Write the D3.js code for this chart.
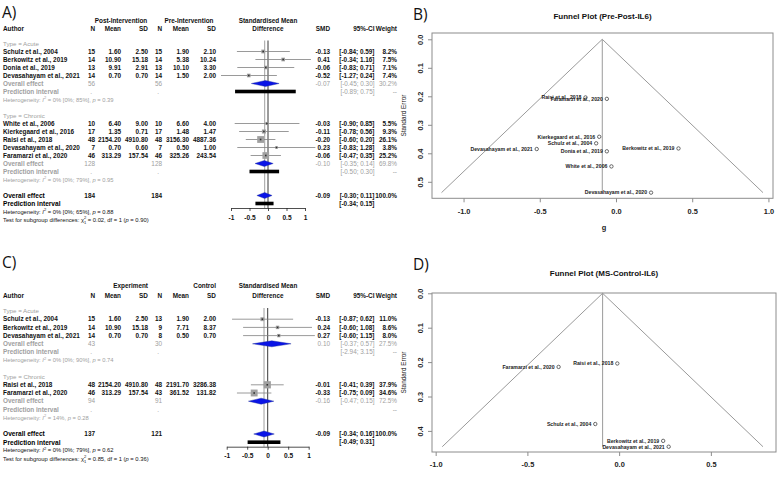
<!DOCTYPE html>
<html><head><meta charset="utf-8">
<script src="https://cdn.jsdelivr.net/npm/d3@7"></script>
<style>body{margin:0;background:#fff}svg{display:block;font-family:"Liberation Sans",Arial,sans-serif}</style>
</head><body><svg id="c" width="784" height="479"></svg>
<script>
// ================= Panel A (forest: Post vs Pre intervention) =================
const A_study = ["Schulz et al., 2004","Berkowitz et al., 2019","Donia et al., 2019","Devasahayam et al., 2021","White et al., 2006","Kierkegaard et al., 2016","Raisi et al., 2018","Devasahayam et al., 2020","Faramarzi et al., 2020"];
const A_type  = ["Acute","Acute","Acute","Acute","Chronic","Chronic","Chronic","Chronic","Chronic"];
const A_n1    = [15,14,13,14,10,17,48,7,46];
const A_mean1 = [1.60,10.90,9.91,0.70,6.40,1.35,2154.20,0.70,313.29];
const A_sd1   = [2.50,15.18,2.91,0.70,9.00,0.71,4910.80,0.60,157.54];
const A_n2    = [15,14,13,14,10,17,48,7,46];
const A_mean2 = [1.90,5.38,10.10,1.50,6.60,1.48,3156.30,0.50,325.26];
const A_sd2   = [2.10,10.24,3.30,2.00,4.00,1.47,4887.36,1.00,243.54];
const A_smd   = [-0.13,0.41,-0.06,-0.52,-0.03,-0.11,-0.20,0.23,-0.06];
const A_lo    = [-0.84,-0.34,-0.83,-1.27,-0.90,-0.78,-0.60,-0.83,-0.47];
const A_hi    = [0.59,1.16,0.71,0.24,0.85,0.56,0.20,1.28,0.35];
const A_w     = [8.2,7.5,7.1,7.4,5.5,9.3,26.1,3.8,25.2];
const A_groups = ["Acute","Chronic"];
const A_gN1   = [56,128];
const A_gN2   = [56,128];
const A_gSmd  = [-0.07,-0.10];
const A_gLo   = [-0.45,-0.35];
const A_gHi   = [0.30,0.14];
const A_gW    = [30.2,69.8];
const A_gPiLo = [-0.89,-0.50];
const A_gPiHi = [0.75,0.30];
const A_gI2   = ["0% [0%; 85%]","0% [0%; 79%]"];
const A_gP    = ["0.39","0.95"];
const A_tot   = [184,184,-0.09,-0.30,0.11,100.0];   // n1, n2, smd, lo, hi, weight
const A_totPI = [-0.34,0.15];
const A_totHet = ["0% [0%; 65%]","0.88"];
const A_test  = ["0.02","1","0.90"];
const A_ticks = [-1,-0.5,0,0.5,1];

// ================= Panel C (forest: Experiment vs Control) =================
const C_study = ["Schulz et al., 2004","Berkowitz et al., 2019","Devasahayam et al., 2021","Raisi et al., 2018","Faramarzi et al., 2020"];
const C_type  = ["Acute","Acute","Acute","Chronic","Chronic"];
const C_n1    = [15,14,14,48,46];
const C_mean1 = [1.60,10.90,0.70,2154.20,313.29];
const C_sd1   = [2.50,15.18,0.70,4910.80,157.54];
const C_n2    = [13,9,8,48,43];
const C_mean2 = [1.90,7.71,0.50,2191.70,361.52];
const C_sd2   = [2.00,8.37,0.70,3286.38,131.82];
const C_smd   = [-0.13,0.24,0.27,-0.01,-0.33];
const C_lo    = [-0.87,-0.60,-0.60,-0.41,-0.75];
const C_hi    = [0.62,1.08,1.15,0.39,0.09];
const C_w     = [11.0,8.6,8.0,37.9,34.6];
const C_groups = ["Acute","Chronic"];
const C_gN1   = [43,94];
const C_gN2   = [30,91];
const C_gSmd  = [0.10,-0.16];
const C_gLo   = [-0.37,-0.47];
const C_gHi   = [0.57,0.15];
const C_gW    = [27.5,72.5];
const C_gPiLo = [-2.94,null];
const C_gPiHi = [3.15,null];
const C_gI2   = ["0% [0%; 90%]","14%"];
const C_gP    = ["0.74","0.28"];
const C_tot   = [137,121,-0.09,-0.34,0.16,100.0];
const C_totPI = [-0.49,0.31];
const C_totHet = ["0% [0%; 79%]","0.62"];
const C_test  = ["0.85","1","0.36"];
const C_ticks = [-1,-0.5,0,0.5,1];

// ================= Panel B funnel (Pre-Post-IL6) =================
const B_study = ["Schulz et al., 2004","Berkowitz et al., 2019","Donia et al., 2019","Devasahayam et al., 2021","White et al., 2006","Kierkegaard et al., 2016","Raisi et al., 2018","Devasahayam et al., 2020","Faramarzi et al., 2020"];
const B_g   = [-0.13,0.41,-0.06,-0.52,-0.03,-0.11,-0.20,0.23,-0.06];
const B_se  = [0.365,0.383,0.393,0.385,0.446,0.342,0.204,0.538,0.209];
const B_center = -0.09;
const B_xticks = [-1.0,-0.5,0.0,0.5,1.0];
const B_yticks = [0.0,0.1,0.2,0.3,0.4,0.5];

// ================= Panel D funnel (MS-Control-IL6) =================
const D_study = ["Schulz et al., 2004","Berkowitz et al., 2019","Devasahayam et al., 2021","Raisi et al., 2018","Faramarzi et al., 2020"];
const D_g   = [-0.13,0.24,0.27,-0.01,-0.33];
const D_se  = [0.380,0.429,0.446,0.204,0.214];
const D_center = -0.09;
const D_xticks = [-1.0,-0.5,0.0,0.5];
const D_yticks = [0.0,0.1,0.2,0.3,0.4];

const svg = d3.select("#c");
const f2 = v => v.toFixed(2);
const GRAY = "#a0a0a0";

function forest(D, L) {
  const g = svg.append("g");
  const x = d3.scaleLinear().domain([-1,1]).range(L.xr);
  const rows = [];
  let r = 0;
  D.groups.forEach((grp, gi) => {
    rows.push({k:"glabel", r:r++, gi});
    D.study.forEach((s,i) => { if (D.type[i] === grp) rows.push({k:"study", r:r++, i}); });
    rows.push({k:"gOE", r:r++, gi});
    rows.push({k:"gPI", r:r++, gi});
    rows.push({k:"gHet", r:r++, gi});
    r++;
  });
  rows.push({k:"OE", r:r++}); rows.push({k:"PI", r:r++}); rows.push({k:"Het", r:r++}); rows.push({k:"Test", r:r++});
  const Y = rr => L.y0 + rr * L.step;
  const piRow = rows.find(d => d.k === "PI").r;
  const axisY = Y(piRow) + 4.5;
  const FS = 6.4;
  const HS = 5.8;

  const txt = (xx, yy, s, anchor, col, bold, fs) => g.append("text")
    .attr("x", xx).attr("y", yy).attr("dy", "0.35em")
    .attr("text-anchor", anchor || "start").attr("fill", col || "#111")
    .attr("font-weight", bold === false ? "normal" : "bold")
    .attr("font-size", fs || FS).text(s);

  // headers
  L.head1.forEach(h => txt(h[0], L.hy1, h[1], h[2]));
  L.head2.forEach(h => txt(h[0], L.hy2, h[1], h[2]));

  // reference lines
  g.append("line").attr("x1", x(D.tot[2])).attr("x2", x(D.tot[2]))
    .attr("y1", Y(0) - 3).attr("y2", axisY).attr("stroke", "#a8a8a8").attr("stroke-width", 1.1);
  g.append("line").attr("x1", x(0)).attr("x2", x(0))
    .attr("y1", Y(0) - 3).attr("y2", axisY).attr("stroke", "#222").attr("stroke-width", 0.9);

  const C = L.cols;
  const wmax = d3.max(D.w);
  const het = (yy, i2, p, col) => {
    const t = g.append("text").attr("x", 3).attr("y", yy).attr("dy", "0.35em")
      .attr("font-size", HS).attr("fill", col);
    t.append("tspan").text("Heterogeneity: ");
    t.append("tspan").attr("font-style", "italic").text("I");
    t.append("tspan").attr("font-size", 4).attr("dy", -2.2).text("2");
    t.append("tspan").attr("dy", 2.2).text(" = " + i2 + ", ");
    t.append("tspan").attr("font-style", "italic").text("p");
    t.append("tspan").text(" = " + p);
  };

  rows.forEach(row => {
    const yy = Y(row.r);
    if (row.k === "glabel") {
      txt(3, yy, "Type = " + D.groups[row.gi], "start", GRAY, false, 6.2);
    } else if (row.k === "study") {
      const i = row.i;
      txt(3, yy, D.study[i]);
      txt(C.n1, yy, D.n1[i], "end");
      txt(C.m1, yy, f2(D.mean1[i]), "end");
      txt(C.sd1, yy, f2(D.sd1[i]), "end");
      txt(C.n2, yy, D.n2[i], "end");
      txt(C.m2, yy, f2(D.mean2[i]), "end");
      txt(C.sd2, yy, f2(D.sd2[i]), "end");
      txt(C.smd, yy, f2(D.smd[i]), "end");
      txt(C.ci, yy, "[" + f2(D.lo[i]) + "; " + f2(D.hi[i]) + "]", "end");
      txt(C.w, yy, D.w[i].toFixed(1) + "%", "end");
      g.append("line").attr("x1", x(D.lo[i])).attr("x2", x(D.hi[i]))
        .attr("y1", yy).attr("y2", yy).attr("stroke", "#808080").attr("stroke-width", 0.8);
      const s = L.sq * Math.sqrt(D.w[i] / wmax);
      g.append("rect").attr("x", x(D.smd[i]) - s/2).attr("y", yy - s/2)
        .attr("width", s).attr("height", s).attr("fill", "#a0a0a0");
      g.append("rect").attr("x", x(D.smd[i]) - 0.8).attr("y", yy - 0.8)
        .attr("width", 1.6).attr("height", 1.6).attr("fill", "#333");
    } else if (row.k === "gOE") {
      const gi = row.gi;
      txt(3, yy, "Overall effect", "start", GRAY);
      txt(C.n1, yy, D.gN1[gi], "end", GRAY, false);
      txt(C.n2, yy, D.gN2[gi], "end", GRAY, false);
      txt(C.smd, yy, f2(D.gSmd[gi]), "end", GRAY, false);
      txt(C.ci, yy, "[" + f2(D.gLo[gi]) + "; " + f2(D.gHi[gi]) + "]", "end", GRAY, false);
      txt(C.w, yy, D.gW[gi].toFixed(1) + "%", "end", GRAY, false);
      g.append("polygon").attr("points", [[x(D.gLo[gi]), yy],[x(D.gSmd[gi]), yy-3],[x(D.gHi[gi]), yy],[x(D.gSmd[gi]), yy+3]].join(" "))
        .attr("fill", "#0a14e6").attr("stroke", "#1a2a9a").attr("stroke-width", 0.4);
    } else if (row.k === "gPI") {
      const gi = row.gi;
      txt(3, yy, "Prediction interval", "start", GRAY);
      txt(C.n1 - 3, yy, ".", "end", GRAY, false);
      txt(C.n2 - 3, yy, ".", "end", GRAY, false);
      if (D.gPiLo[gi] !== null)
        txt(C.ci, yy, "[" + f2(D.gPiLo[gi]) + "; " + f2(D.gPiHi[gi]) + "]", "end", GRAY, false);
      txt(C.w, yy, "--", "end", GRAY, false);
      if (D.gPiLo[gi] !== null && D.gPiLo[gi] > -1.5 && D.gPiHi[gi] < 1.5)
        g.append("rect").attr("x", x(D.gPiLo[gi])).attr("y", yy - 1.8)
          .attr("width", x(D.gPiHi[gi]) - x(D.gPiLo[gi])).attr("height", 3.6).attr("fill", "#000");
    } else if (row.k === "gHet") {
      het(yy, D.gI2[row.gi], D.gP[row.gi], GRAY);
    } else if (row.k === "OE") {
      const t = D.tot;
      txt(3, yy, "Overall effect", "start", "#000", true, 6.6);
      txt(C.n1, yy, t[0], "end");
      txt(C.n2, yy, t[1], "end");
      txt(C.smd, yy, f2(t[2]), "end");
      txt(C.ci, yy, "[" + f2(t[3]) + "; " + f2(t[4]) + "]", "end");
      txt(C.w, yy, t[5].toFixed(1) + "%", "end");
      g.append("polygon").attr("points", [[x(t[3]), yy],[x(t[2]), yy-3],[x(t[4]), yy],[x(t[2]), yy+3]].join(" "))
        .attr("fill", "#0a14e6").attr("stroke", "#1a2a9a").attr("stroke-width", 0.4);
    } else if (row.k === "PI") {
      txt(3, yy, "Prediction interval", "start", "#000", true, 6.6);
      txt(C.ci, yy, "[" + f2(D.totPI[0]) + "; " + f2(D.totPI[1]) + "]", "end");
      g.append("rect").attr("x", x(D.totPI[0])).attr("y", yy - 1.8)
        .attr("width", x(D.totPI[1]) - x(D.totPI[0])).attr("height", 3.6).attr("fill", "#000");
    } else if (row.k === "Het") {
      het(yy, D.totHet[0], D.totHet[1], "#111");
    } else if (row.k === "Test") {
      const t = g.append("text").attr("x", 3).attr("y", yy).attr("dy", "0.35em")
        .attr("font-size", HS).attr("fill", "#111");
      t.append("tspan").text("Test for subgroup differences: ");
      t.append("tspan").text("\u03c7");
      t.append("tspan").attr("font-size", 4).attr("dy", -2.2).text("2");
      t.append("tspan").attr("font-size", 4).attr("dx", -2.2).attr("dy", 4.2).text(D.test[1]);
      t.append("tspan").attr("dy", -2).text(" = " + D.test[0] + ", df = " + D.test[1] + " (");
      t.append("tspan").attr("font-style", "italic").text("p");
      t.append("tspan").text(" = " + D.test[2] + ")");
    }
  });

  // x axis
  const ax = g.append("g").attr("transform", `translate(0,${axisY})`)
    .call(d3.axisBottom(x).tickValues(D.ticks).tickFormat(d => String(d)).tickSize(3).tickSizeOuter(0).tickPadding(4));
  ax.select(".domain").attr("stroke", "#222").attr("stroke-width", 0.8);
  ax.selectAll(".tick line").attr("stroke", "#222").attr("stroke-width", 0.8);
  ax.selectAll("text").attr("font-size", 6.6).attr("font-weight", "bold").attr("fill", "#111")
    .attr("font-family", '"Liberation Sans",Arial,sans-serif');
}

function funnel(D, L) {
  const g = svg.append("g");
  const x = d3.scaleLinear().domain(L.xd).range(L.xr);
  const y = d3.scaleLinear().domain(L.yd).range(L.yr);
  const maxSE = d3.max(D.se);
  // title
  g.append("text").attr("x", (L.xr[0] + L.xr[1]) / 2).attr("y", L.ty).attr("text-anchor", "middle")
    .attr("font-size", 8).attr("font-weight", "bold").attr("fill", "#111").text(L.title);
  // funnel
  const grey = "#9a9a9a";
  g.append("path").attr("d", d3.line()([[x(D.center - 1.96 * maxSE), y(maxSE)], [x(D.center), y(0)], [x(D.center + 1.96 * maxSE), y(maxSE)]]))
    .attr("fill", "none").attr("stroke", grey).attr("stroke-width", 1);
  g.append("line").attr("x1", x(D.center)).attr("x2", x(D.center)).attr("y1", y(0)).attr("y2", y(maxSE))
    .attr("stroke", grey).attr("stroke-width", 1);
  // frame
  g.append("rect").attr("x", L.xr[0]).attr("y", L.fy[0]).attr("width", L.xr[1] - L.xr[0]).attr("height", L.fy[1] - L.fy[0])
    .attr("fill", "none").attr("stroke", "#8c8c8c").attr("stroke-width", 1);
  // points and labels
  D.study.forEach((s, i) => {
    g.append("circle").attr("cx", x(D.g[i])).attr("cy", y(D.se[i])).attr("r", 1.7)
      .attr("fill", "none").attr("stroke", "#444").attr("stroke-width", 0.8);
  });
  D.study.forEach((s, i) => {
    g.append("text").attr("x", x(D.g[i]) - 4).attr("y", y(D.se[i])).attr("dy", "0.35em")
      .attr("text-anchor", "end").attr("font-size", 5.2).attr("font-weight", "bold").attr("fill", "#222").text(s);
  });
  // x axis
  const ax = g.append("g").attr("transform", `translate(0,${L.fy[1]})`)
    .call(d3.axisBottom(x).tickValues(D.xticks).tickFormat(d => d.toFixed(1)).tickSize(4).tickSizeOuter(0).tickPadding(6));
  ax.select(".domain").remove();
  ax.selectAll(".tick line").attr("stroke", "#8c8c8c");
  ax.selectAll("text").attr("font-size", 7.4).attr("font-weight", "bold").attr("fill", "#222")
    .attr("font-family", '"Liberation Sans",Arial,sans-serif');
  // y axis
  const ay = g.append("g").attr("transform", `translate(${L.xr[0]},0)`)
    .call(d3.axisLeft(y).tickValues(D.yticks).tickFormat(d => d.toFixed(1)).tickSize(4).tickSizeOuter(0));
  ay.select(".domain").remove();
  ay.selectAll(".tick line").attr("stroke", "#8c8c8c");
  ay.selectAll("text").attr("font-size", 7.4).attr("font-weight", "bold").attr("fill", "#222")
    .attr("font-family", '"Liberation Sans",Arial,sans-serif')
    .attr("text-anchor", "middle").attr("x", null).attr("dy", "0.35em")
    .attr("transform", `translate(${L.lx - L.xr[0]},0) rotate(-90)`);
  g.append("text").attr("transform", `translate(${L.slx},${(L.fy[0] + L.fy[1]) / 2}) rotate(-90)`)
    .attr("text-anchor", "middle").attr("dy", "0.35em").attr("font-size", 6.4).attr("fill", "#222").text("Standard Error");
  if (L.xlab) g.append("text").attr("x", x(0) - 12).attr("y", L.xly).attr("text-anchor", "middle")
    .attr("font-size", 7.4).attr("font-weight", "bold").attr("fill", "#222").text(L.xlab);
}

// panel letters
const letter = (x0, y0, s) => svg.append("text").attr("x", x0).attr("y", y0).attr("font-size", 15.5)
  .attr("font-family", '"Open Sans","Liberation Sans",sans-serif').attr("fill", "#111").text(s);
letter(2, 18, "A)"); letter(413, 20, "B)"); letter(2, 268, "C)"); letter(413, 270, "D)");

const colsAC = {n1:95, m1:121, sd1:148, n2:162, m2:189, sd2:216, smd:330, ci:374.5, w:397};

forest({study:A_study, type:A_type, n1:A_n1, mean1:A_mean1, sd1:A_sd1, n2:A_n2, mean2:A_mean2, sd2:A_sd2,
        smd:A_smd, lo:A_lo, hi:A_hi, w:A_w, groups:A_groups, gN1:A_gN1, gN2:A_gN2, gSmd:A_gSmd, gLo:A_gLo, gHi:A_gHi,
        gW:A_gW, gPiLo:A_gPiLo, gPiHi:A_gPiHi, gI2:A_gI2, gP:A_gP, tot:A_tot, totPI:A_totPI, totHet:A_totHet, test:A_test, ticks:A_ticks},
  {xr:[231,305], y0:43.5, step:8.0, sq:6.8, cols:colsAC, hy1:21, hy2:29,
   head1:[[121,"Post-Intervention","middle"],[189,"Pre-Intervention","middle"],[268,"Standardised Mean","middle"]],
   head2:[[3,"Author","start"],[95,"N","end"],[121,"Mean","end"],[148,"SD","end"],[162,"N","end"],[189,"Mean","end"],[216,"SD","end"],
          [268,"Difference","middle"],[330,"SMD","end"],[374.5,"95%-CI","end"],[397,"Weight","end"]]});

forest({study:C_study, type:C_type, n1:C_n1, mean1:C_mean1, sd1:C_sd1, n2:C_n2, mean2:C_mean2, sd2:C_sd2,
        smd:C_smd, lo:C_lo, hi:C_hi, w:C_w, groups:C_groups, gN1:C_gN1, gN2:C_gN2, gSmd:C_gSmd, gLo:C_gLo, gHi:C_gHi,
        gW:C_gW, gPiLo:C_gPiLo, gPiHi:C_gPiHi, gI2:C_gI2, gP:C_gP, tot:C_tot, totPI:C_totPI, totHet:C_totHet, test:C_test, ticks:C_ticks},
  {xr:[226.7,308.7], y0:311, step:8.2, sq:7.2, cols:colsAC, hy1:286, hy2:296,
   head1:[[148,"Experiment","end"],[216,"Control","end"],[268,"Standardised Mean","middle"]],
   head2:[[3,"Author","start"],[95,"N","end"],[121,"Mean","end"],[148,"SD","end"],[162,"N","end"],[189,"Mean","end"],[216,"SD","end"],
          [268,"Difference","middle"],[330,"SMD","end"],[374.5,"95%-CI","end"],[397,"Weight","end"]]});

funnel({study:B_study, g:B_g, se:B_se, center:B_center, xticks:B_xticks, yticks:B_yticks},
  {xd:[-1.207,1.03], xr:[432,773], yd:[0,0.5], yr:[39.3,181.8], fy:[33,198.3], ty:19,
   title:"Funnel Plot (Pre-Post-IL6)", lx:420, slx:404, xlab:"g", xly:230});

funnel({study:D_study, g:D_g, se:D_se, center:D_center, xticks:D_xticks, yticks:D_yticks},
  {xd:[-1.02,0.855], xr:[432,776], yd:[0,0.4], yr:[293.3,430.9], fy:[293,452], ty:276,
   title:"Funnel Plot (MS-Control-IL6)", lx:420, slx:404, xlab:null, xly:0});
</script></body></html>
